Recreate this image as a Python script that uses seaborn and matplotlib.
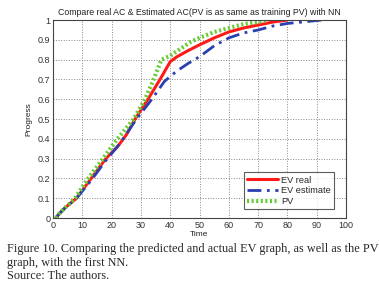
import pandas as pd
import matplotlib
matplotlib.use("Agg")
import matplotlib.pyplot as plt
import seaborn as sns

# curve values
red_t = [1, 2, 4, 8, 10, 13, 18, 22, 25, 28, 32.4, 36.5, 40, 42.3, 46, 50, 55, 60, 65, 70, 75, 80]
red_p = [0.0, 0.02, 0.05, 0.10, 0.14, 0.20, 0.30, 0.36, 0.42, 0.50, 0.60, 0.70, 0.79, 0.815, 0.845, 0.875, 0.91, 0.94, 0.96, 0.975, 0.99, 1.0]

blue_t = [1, 2, 4, 8, 13, 18, 23, 28, 33.7, 38, 42, 46, 50, 55, 60, 65, 70, 75, 80, 85, 89.5, 91.5]
blue_p = [0.0, 0.02, 0.05, 0.10, 0.19, 0.29, 0.38, 0.49, 0.60, 0.69, 0.74, 0.78, 0.815, 0.87, 0.91, 0.935, 0.95, 0.97, 0.983, 0.99, 0.997, 1.0]

green_t = [1, 2, 4, 7.5, 12, 17, 22, 27.5, 31.4, 34.3, 37, 40, 43, 47, 50, 55, 60, 65, 70, 73]
green_p = [0.0, 0.02, 0.05, 0.10, 0.20, 0.30, 0.40, 0.50, 0.60, 0.70, 0.80, 0.82, 0.85, 0.89, 0.91, 0.94, 0.96, 0.98, 0.99, 1.0]

labels = ["EV real", "EV estimate", "PV"]

sns.set_style("white")
plt.rcParams['font.family'] = ['Liberation Sans', 'DejaVu Sans']

fig = plt.figure(figsize=(3.79, 2.87), dpi=100)
ax = fig.add_axes([0.14, 0.2404, 0.773, 0.6896])

sns.lineplot(x=red_t, y=red_p, ax=ax, color="#ff1a1a", lw=2.2, label=labels[0])
sns.lineplot(x=blue_t, y=blue_p, ax=ax, color="#2a3fb0", lw=2.0, ls=(0, (5, 2, 1, 2)), label=labels[1])
sns.lineplot(x=green_t, y=green_p, ax=ax, color="#66cc33", lw=3.0, ls=(0, (0.5, 0.6)), label=labels[2])

ax.set_xlim(0, 100)
ax.set_ylim(0, 1)
ax.set_xticks(range(0, 101, 10))
ax.set_yticks([i / 10 for i in range(11)])
ax.set_yticklabels(["0"] + [f"{i/10:g}" for i in range(1, 10)] + ["1"])
ax.grid(True, ls=":", color="#888888", lw=0.7)
ax.tick_params(labelsize=6.5, length=2, direction="in", colors="#333333", pad=2)
for s in ax.spines.values():
    s.set_color("#444444")
    s.set_linewidth(0.8)

ax.set_title("Compare real AC & Estimated AC(PV is as same as training PV) with NN",
             fontsize=6.3, pad=4, color="#222222")
ax.set_xlabel("Time", fontsize=6, labelpad=1, color="#222222")
ax.set_ylabel("Progress", fontsize=6, labelpad=4, color="#222222")

leg = ax.legend(loc="lower right", bbox_to_anchor=(0.975, 0.02), fontsize=6.6,
                handlelength=3.4, frameon=True, fancybox=False, borderpad=0.35,
                labelspacing=0.2, handletextpad=0.3)
leg.get_frame().set_edgecolor("#333333")
leg.get_frame().set_linewidth(0.8)

cap = ("Figure 10. Comparing the predicted and actual EV graph, as well as the PV\n"
       "graph, with the first NN.\n"
       "Source: The authors.")
fig.text(0.018, 0.153, cap, fontsize=8.85, family=['Liberation Serif'],
         va="top", ha="left", linespacing=1.17)

fig.savefig("out.png", dpi=100)
